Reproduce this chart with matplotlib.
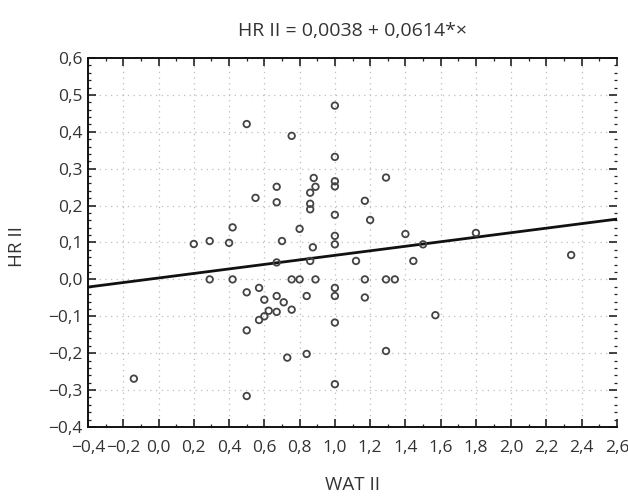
import matplotlib
matplotlib.use("Agg")
import matplotlib.pyplot as plt
from matplotlib.ticker import MultipleLocator, FuncFormatter
import numpy as np

plt.rcParams['font.family'] = ['Open Sans', 'DejaVu Sans']

# Data
wat = [0.20, 0.29, 0.40, 0.42, 0.50, 0.55, 0.67, 0.67, 0.67, 0.70,
       0.755, 0.80, 0.86, 0.86, 0.86, 0.88, 0.89, 0.875, 0.86, 1.00,
       1.00, 1.00, 1.00, 1.00, 1.00, 1.00, 1.12, 1.17, 1.20, 1.29,
       1.40, 1.50, 1.445, 1.80, 2.34,
       0.29, 0.42, 0.50, 0.57, 0.60, 0.67, 0.71, 0.755, 0.80, 0.89,
       0.84, 0.755, 0.67, 0.625, 0.60, 0.57, 0.50, 0.73, 0.84, 0.50,
       -0.14, 1.00, 1.00, 1.00, 1.00, 1.17, 1.17, 1.29, 1.34, 1.57,
       1.29]
hr = [0.096, 0.104, 0.099, 0.141, 0.421, 0.221, 0.251, 0.209, 0.046, 0.104,
      0.389, 0.137, 0.235, 0.205, 0.190, 0.275, 0.251, 0.087, 0.050, 0.471,
      0.332, 0.266, 0.252, 0.175, 0.118, 0.095, 0.050, 0.213, 0.161, 0.276,
      0.123, 0.095, 0.050, 0.126, 0.066,
      0.0, 0.0, -0.035, -0.023, -0.055, -0.045, -0.062, 0.0, 0.0, 0.0,
      -0.045, -0.082, -0.088, -0.085, -0.100, -0.110, -0.138, -0.212, -0.202, -0.316,
      -0.269, -0.023, -0.045, -0.117, -0.284, 0.0, -0.049, 0.0, 0.0, -0.097,
      -0.194]
intercept = 0.0038
slope = 0.0614
title = "HR II = 0,0038 + 0,0614*×"
xlabel = "WAT II"
ylabel = "HR II"

TXT = "#333333"

fig = plt.figure(figsize=(6.28, 4.96), dpi=100)
ax = fig.add_axes([88/628, 1-427/496, (617-88)/628, (427-58)/496])

ax.set_xlim(-0.4, 2.6)
ax.set_ylim(-0.4, 0.6)

ax.grid(True, which='major', color='#bdbdbd', linestyle=(0, (1, 3.5)), linewidth=0.9)
ax.set_axisbelow(True)

xl = np.array(ax.get_xlim())
ax.plot(xl, intercept + slope * xl, color='#111111', linewidth=2.0, zorder=3)

ax.scatter(wat, hr, s=22, facecolors='none', edgecolors='#444444', linewidths=1.3, zorder=4)

ax.xaxis.set_major_locator(MultipleLocator(0.2))
ax.xaxis.set_minor_locator(MultipleLocator(0.1))
ax.yaxis.set_major_locator(MultipleLocator(0.1))
ax.yaxis.set_minor_locator(MultipleLocator(0.02))

def fmt(v, pos):
    s = f"{v:.1f}".replace('.', ',')
    if s.startswith('-'):
        s = '\u2212' + s[1:]
    if s in ('\u22120,0',):
        s = '0,0'
    return s

ax.xaxis.set_major_formatter(FuncFormatter(fmt))
ax.yaxis.set_major_formatter(FuncFormatter(fmt))

ax.tick_params(which='both', direction='in', top=True, right=True, colors='#222222',
               labelcolor=TXT, labelsize=12.5)
ax.tick_params(which='major', length=6, width=1.2)
ax.tick_params(which='minor', length=2.5, width=0.9)
ax.tick_params(axis='x', which='major', pad=9)
ax.tick_params(axis='y', which='major', pad=4)

for side in ['left', 'bottom', 'top']:
    ax.spines[side].set_color('#111111')
    ax.spines[side].set_linewidth(1.4)
ax.spines['right'].set_visible(False)

fig.text((88+617)/2/628, 1-31/496, title, ha='center', va='center', fontsize=14, color=TXT)
fig.text((88+617)/2/628, 1-485/496, xlabel, ha='center', va='center', fontsize=13.5, color=TXT)
fig.text(17/628, 1-247/496, ylabel, ha='center', va='center', fontsize=13.5, color=TXT, rotation=90)

fig.savefig("out.png", dpi=100)
